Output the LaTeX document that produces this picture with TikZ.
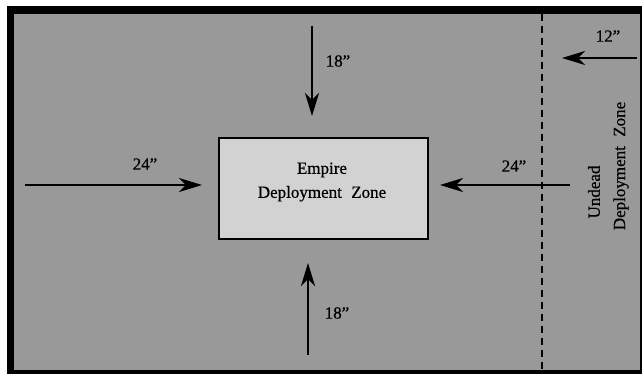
\documentclass[tikz,border=0pt]{standalone}
\usepackage{fontspec}
\setmainfont{Liberation Serif}
\newfontfamily\mapfont[FakeBold=0.6,Ligatures=TeX]{Liberation Serif}
\usetikzlibrary{arrows.meta}

\definecolor{tablegray}{HTML}{999999}
\definecolor{zonegray}{HTML}{D2D2D2}

\tikzset{
  frame/.style={fill=black},
  table/.style={fill=tablegray},
  zonebox/.style={draw=black, line width=2.5pt, fill=zonegray, minimum width=209pt,
    minimum height=101pt, inner sep=0pt},
  zonetext/.style={align=center, font=\mapfont\fontsize{17}{24}\selectfont, inner sep=0pt},
  dist/.style={draw=black, line width=2.6pt,
    -{Stealth[length=23pt,width=14pt,inset=7pt]}},
  distlabel/.style={font=\mapfont\fontsize{17}{18}\selectfont, inner sep=0pt},
  border/.style={draw=black, line width=2.5pt, dash pattern=on 7pt off 5pt},
  zonelabel/.style={font=\mapfont\fontsize{17}{18}\selectfont, inner sep=0pt, rotate=90}
}

\begin{document}
\begin{tikzpicture}[x=1pt,y=-1pt]
  \useasboundingbox (0,0) rectangle (642,374);
  \fill[white] (0,0) rectangle (642,374);

  % table edge and playing surface
  \fill[frame] (7,6) rectangle (646,378);
  \fill[table] (14,14) rectangle (640,370);

  % dashed line marking the Undead deployment zone
  \coordinate (dtop) at (542,14);
  \coordinate (dbot) at (542,370);
  \draw[border] (dtop) -- (dbot);

  % Empire deployment zone
  \node[zonebox] (empire) at (323.5,188.5) {};
  \node[zonetext] (empiretext) at (322,182) {Empire\\Deployment\hspace{0.3em} Zone};

  % distances to the Empire zone
  \coordinate (ntail) at (312,26);
  \coordinate (nhead) at (312,116);
  \draw[dist] (ntail) -- (nhead);
  \node[distlabel] (nlab) at (338,61) {18”};

  \coordinate (stail) at (308,355);
  \coordinate (shead) at (308,263);
  \draw[dist] (stail) -- (shead);
  \node[distlabel] (slab) at (337,313) {18”};

  \coordinate (wtail) at (25,185);
  \coordinate (whead) at (202,185);
  \draw[dist] (wtail) -- (whead);
  \node[distlabel] (wlab) at (145,164) {24”};

  \coordinate (etail) at (570,185);
  \coordinate (ehead) at (440,185);
  \draw[dist] (etail) -- (ehead);
  \node[distlabel] (elab) at (514,166) {24”};

  % depth of the Undead zone
  \coordinate (utail) at (637,58);
  \coordinate (uhead) at (562,58);
  \draw[dist] (utail) -- (uhead);
  \node[distlabel] (ulab) at (608,36) {12”};

  % Undead zone label
  \node[zonelabel] (undead) at (594,192) {Undead};
  \node[zonelabel] (undeadzone) at (621,166) {Deployment\hspace{0.3em} Zone};
\end{tikzpicture}
\end{document}
